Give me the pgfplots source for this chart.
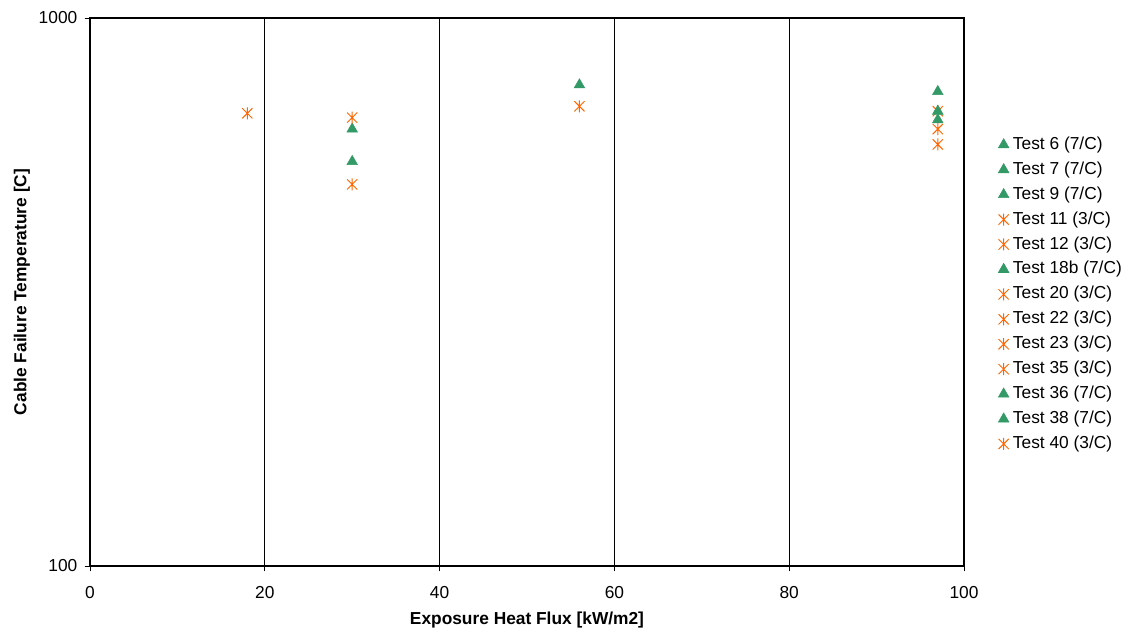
\documentclass[border=0pt]{standalone}
\usepackage{fontspec}
\setmainfont{Liberation Sans}
\usepackage{pgfplots}
\pgfplotsset{compat=1.18}

\definecolor{tgreen}{RGB}{51,153,102}
\definecolor{torange}{RGB}{255,102,0}

% Excel-style star: an X with a vertical bar through it
\pgfdeclareplotmark{xstar}{%
  \pgfpathmoveto{\pgfqpoint{0pt}{\pgfplotmarksize}}%
  \pgfpathlineto{\pgfqpoint{0pt}{-\pgfplotmarksize}}%
  \pgfpathmoveto{\pgfqpoint{-0.85\pgfplotmarksize}{0.85\pgfplotmarksize}}%
  \pgfpathlineto{\pgfqpoint{0.85\pgfplotmarksize}{-0.85\pgfplotmarksize}}%
  \pgfpathmoveto{\pgfqpoint{-0.85\pgfplotmarksize}{-0.85\pgfplotmarksize}}%
  \pgfpathlineto{\pgfqpoint{0.85\pgfplotmarksize}{0.85\pgfplotmarksize}}%
  \pgfusepathqstroke}

\begin{document}
\begin{tikzpicture}[x=1pt,y=1pt]
% page = 1128x633 px at 0.75pt/px, axis box lower-left at origin
\useasboundingbox (-67.5,-50.25) rectangle (778.5,424.5);
\begin{axis}[
    scale only axis,
    width=655.5pt, height=411pt,
    ymode=log,
    xmin=0, xmax=100,
    ymin=100, ymax=1000,
    xtick={0,20,...,100},
    ytick={100,1000},
    yticklabels={100,1000},
    yminorticks=false,
    tick align=outside,
    tick pos=left,
    major tick length=4pt,
    xmajorgrids,
    grid style={black, line width=0.6pt},
    axis line style={black, line width=0.8pt},
    every tick/.style={black, line width=0.6pt},
    /pgf/number format/assume math mode=true,
    tick label style={font=\fontsize{13}{15}\selectfont},
    xticklabel style={yshift=-8pt},
    yticklabel style={xshift=-2pt},
    xlabel={\textbf{Exposure Heat Flux [kW/m2]}},
    ylabel={\textbf{Cable Failure Temperature [C]}},
    label style={font=\fontsize{13}{15}\selectfont},
    xlabel style={at={(axis description cs:0.5,-0.0985)}, anchor=center},
    ylabel style={at={(axis description cs:-0.078,0.5)}, anchor=center},
    legend cell align=left,
    legend image code/.code={\draw[mark repeat=2,mark phase=2] plot coordinates {(0pt,0pt) (4.5pt,0pt) (9pt,0pt)};},
    legend style={draw=none, fill=none, at={(1.039,0.784)}, anchor=north west,
        inner sep=0pt, row sep=6.5pt, font=\fontsize{13}{15}\selectfont,
        nodes={inner sep=0pt, text height=9.5pt, text depth=2.7pt},
        /tikz/every odd column/.style={column sep=3pt}},
    green/.style={only marks, mark=triangle*, mark size=4.6pt, color=tgreen},
    orange/.style={only marks, mark=xstar, mark size=4.5pt, color=torange, mark options={line width=0.7pt}},
]
\addplot[green]  coordinates {(30,627)};
\addlegendentry{Test 6 (7/C)}
\addplot[green]  coordinates {(30,547)};
\addlegendentry{Test 7 (7/C)}
\addplot[green]  coordinates {(56,755)};
\addlegendentry{Test 9 (7/C)}
\addplot[orange] coordinates {(30,658)};
\addlegendentry{Test 11 (3/C)}
\addplot[orange] coordinates {(30,497)};
\addlegendentry{Test 12 (3/C)}
\addplot[green]  coordinates {(97,734)};
\addlegendentry{Test 18b (7/C)}
\addplot[orange] coordinates {(56,690)};
\addlegendentry{Test 20 (3/C)}
\addplot[orange] coordinates {(18,670)};
\addlegendentry{Test 22 (3/C)}
\addplot[orange] coordinates {(97,676)};
\addlegendentry{Test 23 (3/C)}
\addplot[orange] coordinates {(97,627)};
\addlegendentry{Test 35 (3/C)}
\addplot[green]  coordinates {(97,676)};
\addlegendentry{Test 36 (7/C)}
\addplot[green]  coordinates {(97,652)};
\addlegendentry{Test 38 (7/C)}
\addplot[orange] coordinates {(97,588)};
\addlegendentry{Test 40 (3/C)}
\end{axis}
\end{tikzpicture}
\end{document}
